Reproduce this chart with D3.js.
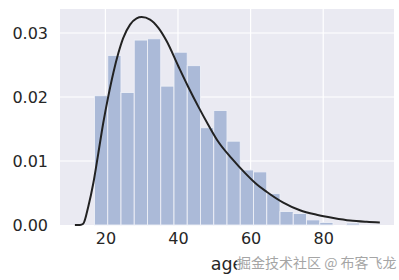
<!DOCTYPE html>
<html>
<head>
<meta charset="utf-8">
<script src="https://cdn.jsdelivr.net/npm/d3@7/dist/d3.min.js"></script>
<style>
  html, body { margin: 0; padding: 0; background: #ffffff; }
  svg { display: block; }
</style>
</head>
<body>
<svg id="chart" width="399" height="280"></svg>
<script>
// ---- data ----
const binEdges = [17, 20.65, 24.3, 27.95, 31.6, 35.25, 38.9, 42.55, 46.2, 49.85, 53.5,
                  57.15, 60.8, 64.45, 68.1, 71.75, 75.4, 79.05, 82.7, 86.35, 90];
const binDensity = [0.0202, 0.0265, 0.0207, 0.0289, 0.0291, 0.0217, 0.0270, 0.0249, 0.0152, 0.0179,
                    0.0131, 0.0086, 0.0083, 0.0049, 0.0021, 0.0018, 0.0008, 0.0004, 0, 0.0003];
const fitAge = [11.6, 13.0, 13.9, 15.3, 16.7, 18.05, 19.4, 20.8, 22.2, 23.6, 24.9, 26.8, 28.6, 30.0,
                32.3, 34.6, 36.9, 40.1, 42.8, 45.6, 48.4, 51.1, 54.8, 58.5, 61.2, 64.4, 69.0,
                73.6, 78.2, 82.8, 87.4, 92.0, 95.6];
const fitDensity = [0, 0, 0.0002, 0.0029, 0.0066, 0.0112, 0.0159, 0.0201, 0.0238, 0.0269, 0.0292,
                    0.0313, 0.0323, 0.0325, 0.0321, 0.0308, 0.0287, 0.0248, 0.0216, 0.0185, 0.0156,
                    0.0130, 0.0104, 0.0081, 0.0066, 0.0052, 0.0035, 0.0023, 0.0016, 0.0011, 0.0007,
                    0.0005, 0.0004];
const xTicks = [20, 40, 60, 80];
const yTicks = [0.00, 0.01, 0.02, 0.03];
const xLabel = "age";
const watermark = "掘金技术社区 @ 布客飞龙";

// ---- layout ----
const svg = d3.select("#chart");
const L = 60, R = 394, T = 9, B = 225;
const x = d3.scaleLinear().domain([7.5, 99.5]).range([L, R]);
const y = d3.scaleLinear().domain([0, 0.03375]).range([B, T]);
const font = "DejaVu Sans, sans-serif";
const textColor = "#262626";

// background
svg.append("rect").attr("x", L).attr("y", T).attr("width", R - L).attr("height", B - T)
  .attr("fill", "#EAEAF2");

// grid
const grid = svg.append("g");
grid.selectAll("line.v").data(xTicks).join("line")
  .attr("x1", d => x(d)).attr("x2", d => x(d)).attr("y1", T).attr("y2", B)
  .attr("stroke", "#ffffff").attr("stroke-width", 1.2);
grid.selectAll("line.h").data(yTicks.filter(d => d > 0)).join("line")
  .attr("x1", L).attr("x2", R).attr("y1", d => y(d)).attr("y2", d => y(d))
  .attr("stroke", "#ffffff").attr("stroke-width", 1.2);

// bars
const bins = binDensity.map((v, i) => ({ x0: binEdges[i], x1: binEdges[i + 1], v }));
svg.append("g").selectAll("rect").data(bins.filter(b => b.v > 0)).join("rect")
  .attr("x", d => x(d.x0))
  .attr("width", d => x(d.x1) - x(d.x0))
  .attr("y", d => y(d.v))
  .attr("height", d => y(0) - y(d.v))
  .attr("fill", "#ABBAD8")
  .attr("stroke", "#EEF0F7")
  .attr("stroke-width", 0.9);

// fitted curve
const pts = fitAge.map((a, i) => [a, fitDensity[i]]);
svg.append("path").datum(pts)
  .attr("d", d3.line().x(d => x(d[0])).y(d => y(d[1])).curve(d3.curveMonotoneX))
  .attr("fill", "none").attr("stroke", "#222222").attr("stroke-width", 2);

// axes (no tick marks, no domain line)
const xAxis = svg.append("g").attr("transform", `translate(0,${B})`)
  .call(d3.axisBottom(x).tickValues(xTicks).tickSize(0).tickPadding(8).tickFormat(d3.format("d")));
const yAxis = svg.append("g").attr("transform", `translate(${L},0)`)
  .call(d3.axisLeft(y).tickValues(yTicks).tickSize(0).tickPadding(12).tickFormat(d3.format(".2f")));
[xAxis, yAxis].forEach(g => {
  g.select(".domain").remove();
  g.selectAll("text").attr("font-family", font).attr("font-size", 16).attr("fill", textColor);
});

// x label
svg.append("text").attr("x", (L + R) / 2).attr("y", 270)
  .attr("text-anchor", "middle").attr("font-family", font).attr("font-size", 17.5)
  .attr("fill", textColor).text(xLabel);

// watermark
svg.append("text").attr("x", 237).attr("y", 268)
  .attr("font-family", "Noto Sans CJK SC, sans-serif").attr("font-size", 14)
  .attr("fill", "#9c9c9c").attr("stroke", "#ffffff").attr("stroke-width", 1.5)
  .attr("paint-order", "stroke").attr("opacity", 0.9)
  .text(watermark);
</script>
</body>
</html>
